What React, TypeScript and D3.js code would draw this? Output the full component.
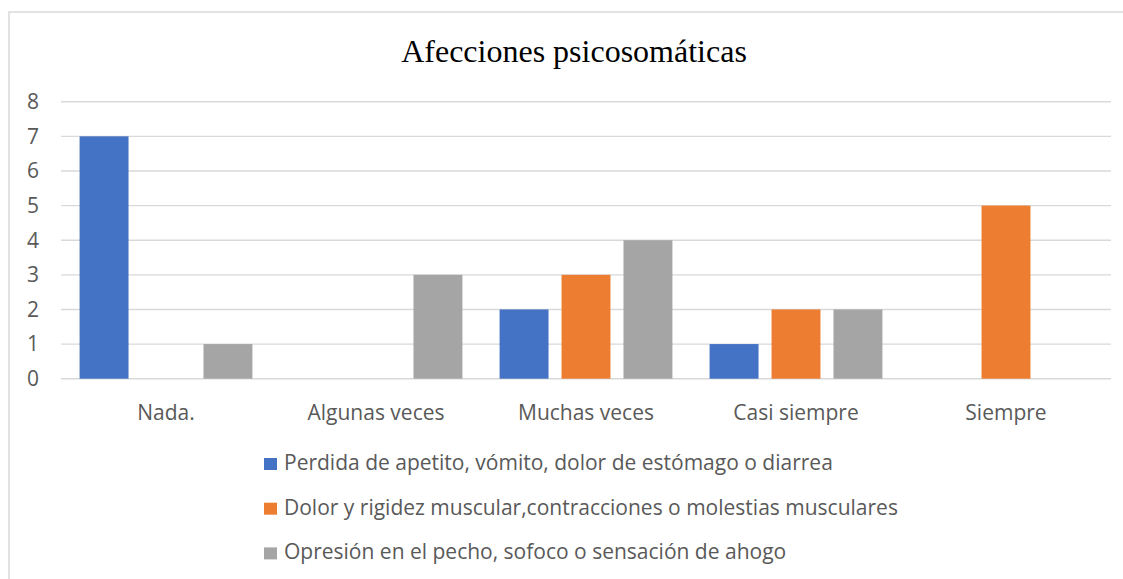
import React from "react";
import * as d3 from "d3";

const categories = ["Nada.", "Algunas veces", "Muchas veces", "Casi siempre", "Siempre"];
const seriesNames = [
  "Perdida de apetito, vómito, dolor de estómago o diarrea",
  "Dolor y rigidez muscular,contracciones o molestias musculares",
  "Opresión en el pecho, sofoco o sensación de ahogo",
];
const perdidaValues = [7, 0, 2, 1, 0];
const dolorValues = [0, 0, 3, 2, 5];
const opresionValues = [1, 3, 4, 2, 0];
const yTicks = [0, 1, 2, 3, 4, 5, 6, 7, 8];
const colors = ["#4472C4", "#ED7D31", "#A5A5A5"];

const W = 1123;
const H = 579;
const FONT = "'Open Sans', 'Noto Sans', sans-serif";
const FS = 21;

export default function App() {
  const seriesValues = [perdidaValues, dolorValues, opresionValues];
  const x = d3.scaleBand<string>().domain(categories).range([61, 1111]).paddingInner(0).paddingOuter(0);
  const xs = d3
    .scaleBand<number>()
    .domain([0, 1, 2])
    .range([0, x.bandwidth()])
    .paddingInner(0.21)
    .paddingOuter(0.3);
  const y = d3.scaleLinear().domain([0, 8]).range([378.7, 101.7]);

  return (
    <svg
      width={W}
      height={H}
      style={{ position: "absolute", left: 0, top: 0, background: "#fff" }}
    >
      <rect x={0} y={0} width={W} height={H} fill="#fff" />
      <rect x={9} y={12} width={W + 10} height={H + 10} fill="none" stroke="#d9d9d9" strokeWidth={1.5} />
      <text
        x={574}
        y={62}
        textAnchor="middle"
        fontFamily="'Liberation Serif', 'Times New Roman', serif"
        fontSize={32}
        fill="#000"
      >
        Afecciones psicosomáticas
      </text>
      {yTicks.map((t) => (
        <g key={t}>
          <line x1={61} x2={1111} y1={y(t)} y2={y(t)} stroke="#d9d9d9" strokeWidth={1.4} />
          <text
            x={39}
            y={y(t)}
            dy="0.35em"
            textAnchor="end"
            fontFamily={FONT}
            fontSize={FS}
            fill="#595959"
          >
            {t}
          </text>
        </g>
      ))}
      {categories.map((c, ci) => (
        <g key={c}>
          {seriesValues.map((vals, si) =>
            vals[ci] > 0 ? (
              <rect
                key={si}
                x={(x(c) as number) + (xs(si) as number)}
                y={y(vals[ci])}
                width={xs.bandwidth()}
                height={y(0) - y(vals[ci])}
                fill={colors[si]}
              />
            ) : null
          )}
          <text
            x={(x(c) as number) + x.bandwidth() / 2}
            y={420}
            textAnchor="middle"
            fontFamily={FONT}
            fontSize={FS}
            fill="#595959"
          >
            {c}
          </text>
        </g>
      ))}
      {seriesNames.map((n, i) => (
        <g key={n}>
          <rect x={264} y={458 + i * 44.7} width={13} height={12} fill={colors[i]} />
          <text x={284} y={470 + i * 44.7} fontFamily={FONT} fontSize={FS} fill="#595959">
            {n}
          </text>
        </g>
      ))}
    </svg>
  );
}
